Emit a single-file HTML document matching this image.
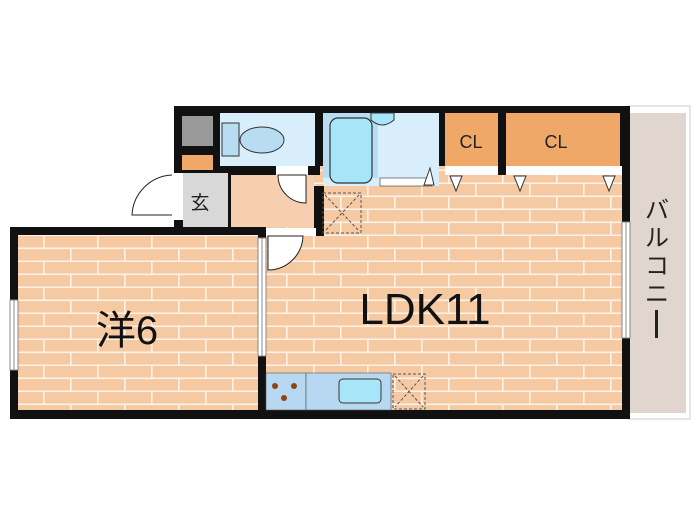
<!DOCTYPE html>
<html><head><meta charset="utf-8"><style>
html,body{margin:0;padding:0;background:#fff;width:700px;height:525px;overflow:hidden}
svg{display:block}
text{font-family:"Liberation Sans","Noto Sans CJK JP",sans-serif}
</style></head><body>
<svg width="700" height="525" viewBox="0 0 700 525" xmlns="http://www.w3.org/2000/svg">
<defs>
<pattern id="brick" x="18" y="236" width="54" height="26" patternUnits="userSpaceOnUse">
<rect width="54" height="26" fill="#f5c9a2"/>
<rect y="11.5" width="54" height="1.6" fill="#fdf2e8"/>
<rect y="24.5" width="54" height="1.6" fill="#fdf2e8"/>
<rect x="25" y="0" width="1.6" height="12" fill="#fdf2e8"/>
<rect x="52" y="13" width="1.6" height="12" fill="#fdf2e8"/>
</pattern>
</defs>
<rect x="628" y="106" width="62" height="313" fill="#fff" stroke="#ccc" stroke-width="1"/>
<rect x="630" y="113" width="56" height="300" fill="#e0d6cf"/>
<text x="657" y="218" font-size="24" text-anchor="middle" fill="#222">バ</text>
<text x="657" y="246" font-size="24" text-anchor="middle" fill="#222">ル</text>
<text x="657" y="274" font-size="24" text-anchor="middle" fill="#222">コ</text>
<text x="657" y="302" font-size="24" text-anchor="middle" fill="#222">ニ</text>
<rect x="655" y="310" width="3" height="28" fill="#222"/>
<rect x="174" y="106" width="456" height="122" fill="#111"/>
<rect x="10" y="227" width="620" height="192" fill="#111"/>
<rect x="18" y="235" width="240" height="175" fill="url(#brick)"/>
<rect x="266" y="175" width="356" height="235" fill="url(#brick)"/>
<rect x="320" y="166" width="125" height="70" fill="url(#brick)"/>
<rect x="445" y="113" width="53" height="53" fill="#f0a868"/>
<rect x="506" y="113" width="114" height="53" fill="#f0a868"/>
<rect x="445" y="166" width="177" height="9" fill="#fff"/>
<rect x="498" y="166" width="8" height="9" fill="#111"/>
<text x="471" y="148" font-size="18" text-anchor="middle" fill="#222">CL</text>
<text x="556" y="148" font-size="18" text-anchor="middle" fill="#222">CL</text>
<path d="M450 176 L462 176 L456 191 Z M514 176 L526 176 L520 191 Z M603 176 L615 176 L609 191 Z" fill="#fff" stroke="#333"/>
<rect x="323" y="113" width="116" height="73" fill="#d8eefa"/>
<rect x="323" y="113" width="55" height="65" fill="#b8dcf2"/>
<rect x="330" y="118" width="42" height="65" rx="8" fill="#a6e6f8" stroke="#333" stroke-width="1.2"/>
<path d="M371 113 L394 113 L394 120 Q382 130 371 120 Z" fill="#a6e6f8" stroke="#333"/>
<rect x="380" y="178" width="52" height="8" fill="#fff" stroke="#333" stroke-width="0.6"/>
<path d="M424 185 L430 168 L434 185 Z" fill="#fff" stroke="#333"/>
<rect x="314" y="186" width="10" height="50" fill="#111"/>
<rect x="323" y="193" width="38" height="40" fill="none" stroke="#555" stroke-dasharray="3,2"/>
<path d="M325 195 L359 231 M359 195 L325 231" stroke="#555" stroke-dasharray="3,2"/>
<rect x="220" y="113" width="95" height="53" fill="#d8eefa"/>
<rect x="222" y="123" width="17" height="33" fill="#b8dcf2" stroke="#333"/>
<ellipse cx="262" cy="140" rx="22" ry="13" fill="#b8dcf2" stroke="#333"/>
<rect x="182" y="116" width="31" height="30" fill="#999"/>
<rect x="182" y="155" width="31" height="15" fill="#f0a868"/>
<rect x="183" y="173" width="45" height="54" fill="#d8d8d8"/>
<text x="200" y="209" font-size="19" text-anchor="middle" fill="#222">玄</text>
<rect x="172" y="173" width="11" height="47" fill="#fff"/>
<path d="M172 175 A42 42 0 0 0 132 215 L172 215" fill="#fff" stroke="#222"/>
<rect x="231" y="175" width="83" height="52" fill="#f5cfb0"/>
<rect x="276" y="166" width="32" height="9" fill="#fff"/>
<path d="M278 175 L306 175 L306 203 A28 28 0 0 1 278 175 Z" fill="#fff" stroke="#222"/>
<rect x="266" y="228" width="50" height="8" fill="#fff"/>
<path d="M268 236 L268 270 A35 35 0 0 0 303 236 Z" fill="#fff" stroke="#222"/>
<rect x="258" y="238" width="8" height="118" fill="#fff" stroke="#888"/>
<line x1="262" y1="238" x2="262" y2="356" stroke="#888"/>
<rect x="10" y="300" width="8" height="70" fill="#fff" stroke="#888"/>
<line x1="14" y1="300" x2="14" y2="370" stroke="#888"/>
<rect x="622" y="222" width="8" height="116" fill="#fff" stroke="#888"/>
<line x1="626" y1="222" x2="626" y2="338" stroke="#888"/>
<rect x="266" y="373" width="40" height="37" fill="#b8d8f2" stroke="#555" stroke-width="0.6"/>
<rect x="306" y="373" width="85" height="37" fill="#b8d8f2" stroke="#555" stroke-width="0.6"/>
<circle cx="275" cy="386" r="3" fill="#8b4513"/><circle cx="294" cy="386" r="3" fill="#8b4513"/><circle cx="284" cy="398" r="3" fill="#8b4513"/>
<rect x="339" y="379" width="42" height="24" rx="4" fill="#a6e6f8" stroke="#333"/>
<rect x="393" y="374" width="32" height="35" fill="none" stroke="#555" stroke-dasharray="3,2"/>
<path d="M395 376 L423 407 M423 376 L395 407" stroke="#555" stroke-dasharray="3,2"/>
<text x="127" y="344" font-size="40" text-anchor="middle" fill="#111">洋6</text>
<text x="425" y="324" font-size="44" text-anchor="middle" fill="#111">LDK11</text>
</svg>
</body></html>
